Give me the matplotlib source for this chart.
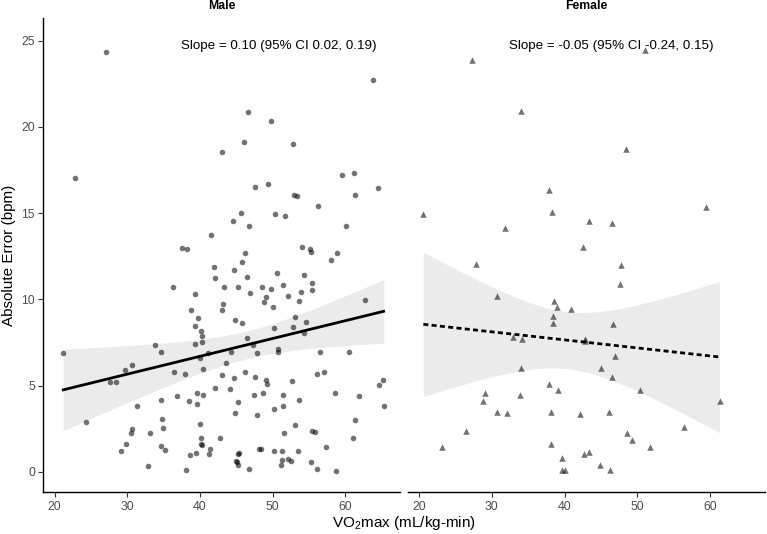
import numpy as np
import matplotlib
matplotlib.use('Agg')
import matplotlib.pyplot as plt

plt.rcParams['font.family'] = ['Liberation Sans', 'DejaVu Sans']
plt.rcParams['mathtext.default'] = 'regular'

# --- data ---
male_x = [27.1, 63.8, 46.6, 49.8, 46.1, 52.8, 43.0, 22.8, 59.5, 61.2,
          64.5, 47.6, 49.4, 53.0, 53.4, 61.3, 56.2, 45.7, 50.3, 51.75,
          44.6, 46.7, 60.1, 41.5, 37.55, 38.2, 54.0, 55.2, 55.3, 46.25,
          58.9, 58.1, 42.0, 45.8, 44.7, 42.1, 46.5, 50.6, 54.4, 36.3,
          43.3, 45.3, 48.6, 49.8, 51.5, 55.5, 55.4, 39.4, 46.85, 53.9,
          52.1, 49.1, 48.8, 53.6, 43.2, 43.0, 38.8, 50.1, 62.75, 39.8,
          44.8, 45.8, 53.1, 54.6, 39.4, 50.2, 52.8, 40.1, 40.3, 54.4,
          40.3, 39.3, 46.5, 47.3, 33.8, 34.7, 40.0, 41.1, 44.3, 47.8,
          50.75, 50.8, 56.5, 60.5, 21.2, 43.6, 30.7, 29.7, 36.5, 38.0,
          40.4, 46.2, 43.05, 44.7, 47.6, 56.1, 57.1, 27.6, 28.5, 49.1,
          49.3, 52.7, 65.2, 64.6, 42.1, 44.2, 39.6, 40.4, 36.8, 47.45,
          48.7, 51.4, 58.6, 61.9, 34.6, 38.5, 39.55, 45.2, 51.4, 50.15,
          53.6, 65.3, 31.4, 44.8, 47.8, 24.3, 61.4, 34.85, 34.9, 40.0,
          53.1, 30.7, 30.5, 33.2, 51.65, 55.4, 55.9, 40.2, 42.8, 61.1,
          29.9, 34.7, 40.1, 40.3, 29.1, 35.2, 41.35, 41.2, 38.6, 39.5,
          45.4, 45.3, 48.1, 48.45, 50.15, 51.3, 53.5, 57.4, 45.0, 45.1,
          45.3, 51.3, 51.2, 52.2, 52.6, 55.3, 32.9, 38.05, 46.7, 56.15,
          58.8]
male_y = [24.34, 22.74, 20.85, 20.32, 19.13, 19.03, 18.55, 17.04, 17.24, 17.35,
          16.44, 16.52, 16.72, 16.04, 16.0, 16.04, 15.44, 15.02, 14.96, 14.84,
          14.57, 14.28, 14.24, 13.76, 12.99, 12.93, 13.03, 12.95, 12.75, 12.72,
          12.72, 12.28, 11.89, 12.16, 11.71, 11.25, 11.29, 11.56, 11.41, 10.73,
          10.73, 10.73, 10.73, 10.6, 10.83, 10.96, 10.52, 10.29, 10.4, 10.44,
          10.21, 10.13, 9.84, 9.92, 9.73, 9.36, 9.4, 9.55, 9.96, 8.92,
          8.8, 8.65, 8.96, 8.69, 8.44, 8.36, 8.4, 8.15, 7.89, 8.07,
          7.55, 7.43, 7.76, 7.34, 7.34, 6.97, 6.58, 6.89, 6.95, 6.91,
          7.12, 6.93, 6.95, 6.97, 6.91, 6.31, 6.2, 5.89, 5.77, 5.67,
          5.96, 5.77, 5.6, 5.44, 5.48, 5.66, 5.79, 5.23, 5.23, 5.33,
          5.08, 5.27, 5.33, 5.06, 4.88, 4.81, 4.56, 4.48, 4.4, 4.44,
          4.59, 4.44, 4.56, 4.4, 4.15, 4.11, 3.92, 4.07, 3.8, 3.63,
          4.15, 3.84, 3.84, 3.4, 3.28, 2.91, 2.99, 3.07, 2.55, 2.76,
          2.72, 2.47, 2.24, 2.28, 2.24, 2.36, 2.32, 1.99, 1.95, 1.95,
          1.64, 1.52, 1.62, 1.56, 1.23, 1.27, 1.35, 1.06, 1.0, 1.08,
          1.12, 1.06, 1.31, 1.35, 1.23, 1.2, 1.23, 1.43, 0.66, 0.56,
          0.41, 0.68, 0.39, 0.75, 0.66, 0.56, 0.35, 0.12, 0.16, 0.16,
          0.08]

female_x = [27.3, 51.0, 34.0, 48.4, 37.9, 59.4, 20.6, 38.25, 43.3, 46.5,
            31.8, 42.5, 27.9, 47.8, 47.65, 30.75, 38.6, 39.0, 40.9, 38.4,
            38.4, 46.7, 32.9, 34.1, 42.8, 42.85, 46.9, 34.0, 44.95, 46.55,
            37.85, 39.1, 50.35, 29.1, 33.95, 61.3, 28.8, 30.7, 32.1, 38.2,
            42.1, 46.1, 56.45, 26.5, 48.6, 49.25, 51.8, 23.2, 38.1, 42.7,
            43.4, 39.7, 44.9, 39.6, 40.0, 46.2]
female_y = [23.86, 24.47, 20.92, 18.74, 16.33, 15.36, 14.98, 15.05, 14.53, 14.46,
            14.13, 13.05, 12.08, 11.97, 10.89, 10.21, 9.92, 9.55, 9.42, 9.05,
            8.65, 8.57, 7.84, 7.72, 7.72, 7.59, 6.7, 6.04, 6.04, 5.5,
            5.1, 4.77, 4.73, 4.57, 4.44, 4.13, 4.09, 3.47, 3.43, 3.47,
            3.34, 3.47, 2.59, 2.37, 2.24, 1.85, 1.43, 1.47, 1.62, 1.06,
            1.18, 0.81, 0.41, 0.12, 0.12, 0.12]

panels = ["Male", "Female"]
slope_labels = ["Slope = 0.10 (95% CI 0.02, 0.19)",
                "Slope = -0.05 (95% CI -0.24, 0.15)"]
label_x = [50.9, 46.4]
label_y = 24.7
t_crit = [1.974, 2.005]  # t quantiles for the 95% band


def fit_band(x, y, t):
    """Linear fit with 95% confidence band, like geom_smooth(method='lm')."""
    x = np.asarray(x)
    y = np.asarray(y)
    slope, icpt = np.polyfit(x, y, 1)
    xs = np.linspace(x.min(), x.max(), 100)
    resid = y - (icpt + slope * x)
    s = np.sqrt(np.sum(resid ** 2) / (len(x) - 2))
    se = s * np.sqrt(1 / len(x) + (xs - x.mean()) ** 2 / np.sum((x - x.mean()) ** 2))
    fit = icpt + slope * xs
    return xs, fit, fit - t * se, fit + t * se


fig = plt.figure(figsize=(7.67, 5.34), dpi=100)
W, H = 767, 534
bottom, top = 492.3, 18.3
ax1 = fig.add_axes([43.3 / W, 1 - bottom / H, (400 - 43.3) / W, (bottom - top) / H])
ax2 = fig.add_axes([407.7 / W, 1 - bottom / H, (765 - 407.7) / W, (bottom - top) / H])

series = [(male_x, male_y, 'o', '-'), (female_x, female_y, '^', (0, (1.8, 1.2)))]
for i, (ax, (xv, yv, mk, ls)) in enumerate(zip([ax1, ax2], series)):
    xs, fit, lo, hi = fit_band(xv, yv, t_crit[i])
    ax.fill_between(xs, lo, hi, color='#ebebeb', lw=0, zorder=1)
    ax.scatter(xv, yv, marker=mk, s=16 if mk == 'o' else 22, color='black',
               alpha=0.55, lw=0, zorder=2)
    ax.plot(xs, fit, color='black', lw=2.0, linestyle=ls, zorder=3)
    ax.text(label_x[i], label_y, slope_labels[i], ha='center', va='center',
            fontsize=9.6, color='black')
    ax.text(0.5, 1 + (top - 6) / (bottom - top), panels[i], transform=ax.transAxes,
            ha='center', va='center', fontsize=8.8, fontweight='bold')

    ax.set_xlim(18.45, 67.55)
    ax.set_ylim(-1.18, 26.3)
    ax.set_xticks([20, 30, 40, 50, 60])
    ax.set_yticks([0, 5, 10, 15, 20, 25])
    for side in ['top', 'right']:
        ax.spines[side].set_visible(False)
    ax.spines['bottom'].set_linewidth(1.0)
    ax.spines['left'].set_linewidth(1.0)
    ax.tick_params(length=3.8, width=0.8, pad=2.2, labelsize=8.8,
                   labelcolor='#4d4d4d', color='#333333')

ax2.spines['left'].set_visible(False)
ax2.tick_params(axis='y', left=False, labelleft=False)

ax1.set_ylabel('Absolute Error (bpm)', fontsize=11, labelpad=4)
fig.text(404 / W, 1 - 523 / H, 'VO$_2$max (mL/kg-min)', ha='center', va='center',
         fontsize=11)

fig.savefig('out.png', dpi=100)
